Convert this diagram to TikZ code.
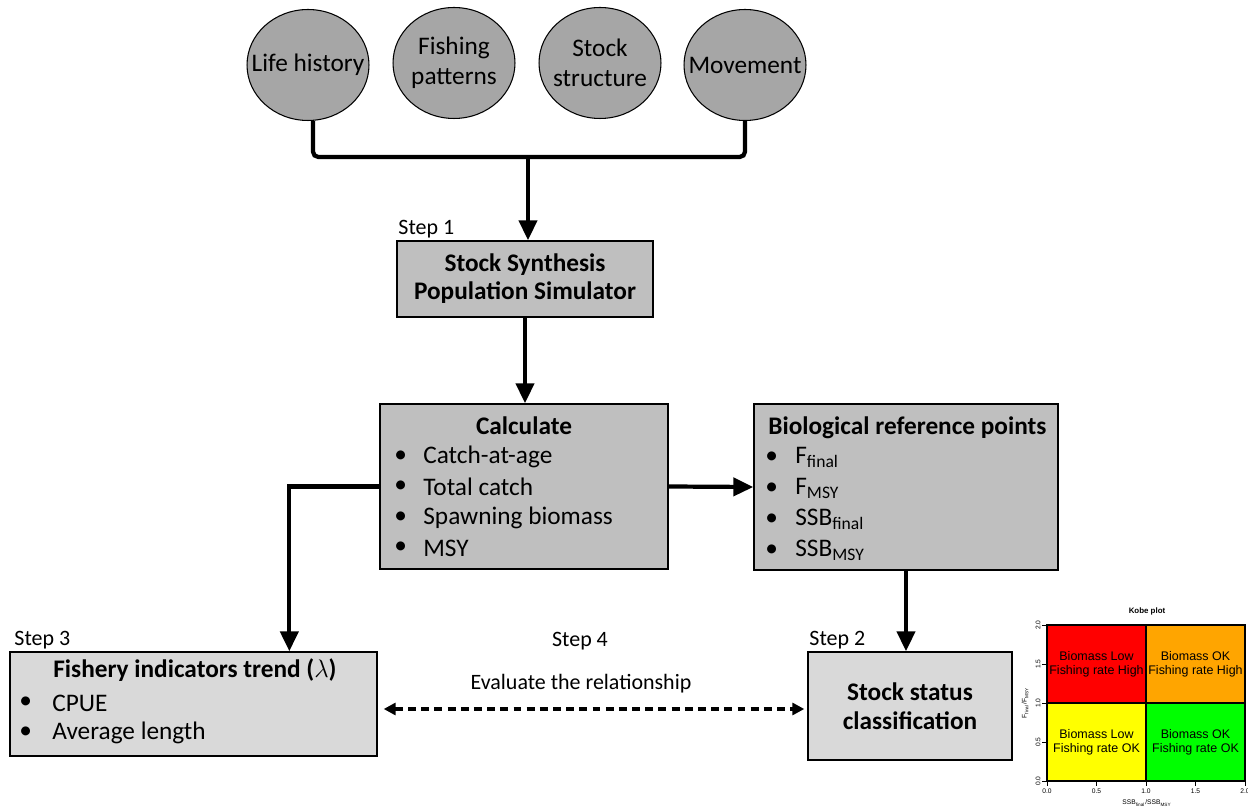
\documentclass[tikz,border=0pt]{standalone}
\usepackage{fontspec}
\setmainfont{Carlito}
\newfontfamily\kobefont{Liberation Sans}
\usepackage{tikz}
\usetikzlibrary{arrows.meta, positioning, shapes.geometric, calc}
\definecolor{bubblegray}{HTML}{A6A6A6}
\definecolor{boxgray}{HTML}{BFBFBF}
\definecolor{palegray}{HTML}{D9D9D9}
\definecolor{kobered}{HTML}{FF0000}
\definecolor{kobeorange}{HTML}{FFA500}
\definecolor{kobeyellow}{HTML}{FFFF00}
\definecolor{kobegreen}{HTML}{00FF00}

\begin{document}
\begin{tikzpicture}[x=0.02cm, y=-0.02cm, font=\fontsize{14.4}{17}\selectfont]
    % Define styles
    \tikzstyle{bubble}=[draw, ellipse, fill=bubblegray, line width=0.6pt, minimum width=2.44cm, minimum height=2.22cm, inner sep=0pt]
    \tikzstyle{darkbox}=[draw, rectangle, fill=boxgray, line width=0.8pt, inner sep=0pt]
    \tikzstyle{palebox}=[draw, rectangle, fill=palegray, line width=0.8pt, inner sep=0pt]
    \tikzstyle{title}=[font=\fontsize{14.4}{16}\selectfont\bfseries, inner sep=0pt]
    \tikzstyle{steptext}=[font=\fontsize{12.5}{15}\selectfont, inner sep=1pt]
    \tikzstyle{entry}=[anchor=west, inner sep=0pt]
    \tikzstyle{flow}=[line width=2.4pt, -{Triangle[length=0.4cm, width=0.36cm]}]
    \tikzstyle{quad}=[draw, line width=0.7pt, minimum width=1.98cm, minimum height=1.56cm, inner sep=0pt, align=center]
    \tikzstyle{tick}=[font=\kobefont\fontsize{3.8}{4}\selectfont, inner sep=0pt]

    \useasboundingbox (0,0) rectangle (1248,810);

    % Inputs (top row)
    \node[bubble, label=center:{Life history}] (life) at (308,65) {};
    \node[bubble, label={[align=center]center:Fishing\\patterns}] (fishing) at (454,63) {};
    \node[bubble, label={[align=center]center:Stock\\structure}] (structure) at (600,63) {};
    \node[bubble, label=center:{Movement}] (movement) at (745,65) {};

    % Bracket joining the inputs
    \coordinate (join) at (528,157);
    \draw[line width=2.4pt, rounded corners=3pt] ([xshift=0.1cm]life.south) |- (join) -| (movement.south);

    % Step 1 - simulator
    \node[darkbox, minimum width=5.12cm, minimum height=1.52cm, align=center, font=\fontsize{14.4}{16}\selectfont\bfseries] (synth) at (525,279) {Stock Synthesis\\Population Simulator};
    \node[steptext, anchor=south west] (step1) at (synth.north west) {Step 1};
    \draw[flow] (join) -- (join |- synth.north);

    % Calculate box
    \node[darkbox, minimum width=5.76cm, minimum height=3.3cm] (calc) at (524,486.5) {};
    \node[title] (calctitle) at (524,426) {Calculate};
    \foreach \y/\txt [count=\i] in {457/Catch-at-age, 487/Total catch, 518/Spawning biomass, 548/MSY} {
        \node[entry] (calcdot\i) at (394,\y) {\textbullet};
        \node[entry] (calcitem\i) at (423,\y) {\txt};
    }
    \draw[flow] (synth.south) -- (synth.south |- calc.north);

    % Biological reference points
    \node[darkbox, minimum width=6.08cm, minimum height=3.32cm] (refpts) at (906,487) {};
    \node[title, anchor=west] (reftitle) at (768,428) {Biological reference points};
    \foreach \y/\txt [count=\i] in {458/F\textsubscript{final}, 489/F\textsubscript{MSY}, 520/SSB\textsubscript{final}, 551/SSB\textsubscript{MSY}} {
        \node[entry] (refdot\i) at (765,\y) {\textbullet};
        \node[entry, anchor=base west] (refitem\i) at (795,\y+6) {\txt};
    }
    \draw[flow] (calc.east) -- (refpts.west);

    % Step 3 - fishery indicators
    \node[palebox, minimum width=7.34cm, minimum height=2.08cm] (fishery) at (193.5,704) {};
    \node[steptext, anchor=south west] (step3) at ([xshift=0.06cm]fishery.north west) {Step 3};
    \node[title] (fishtitle) at (195,670) {Fishery indicators trend ($\lambda$)};
    \foreach \y/\txt [count=\i] in {703/CPUE, 733/Average length} {
        \node[entry] (fishdot\i) at (19,\y) {\textbullet};
        \node[entry] (fishitem\i) at (52,\y) {\txt};
    }
    \draw[flow] (calc.west) -| ($(fishery.north west)+(280,0)$);

    % Step 2 - stock status
    \node[palebox, minimum width=4.08cm, minimum height=2.16cm, align=center, font=\fontsize{14.4}{16.5}\selectfont\bfseries] (status) at (910,706) {Stock status\\classification};
    \node[steptext, anchor=south west] (step2) at (status.north west) {Step 2};
    \draw[flow] (refpts.south) -- (refpts.south |- status.north);

    % Step 4 - relationship
    \node[steptext] (step4) at (580,641) {Step 4};
    \node[steptext] (evaluate) at (581,684) {Evaluate the relationship};
    \draw[line width=2pt, dash pattern=on 4.5pt off 3pt, {Triangle[length=0.24cm, width=0.24cm]}-{Triangle[length=0.24cm, width=0.24cm]}] ([shift={(6,5)}]fishery.east) -- ([shift={(-3,3)}]status.west);

    % Kobe plot
    \node[font=\kobefont\fontsize{4.5}{5}\selectfont\bfseries, inner sep=0pt] (kobetitle) at (1147,611) {Kobe plot};
    \begin{scope}[font=\kobefont\fontsize{7.1}{8}\selectfont]
        \node[quad, fill=kobered] (lowhigh) at (1096.5,664) {Biomass Low\\Fishing rate High};
        \node[quad, fill=kobeorange] (okhigh) at (1195.5,664) {Biomass OK\\Fishing rate High};
        \node[quad, fill=kobeyellow] (lowok) at (1096.5,742) {Biomass Low\\Fishing rate OK};
        \node[quad, fill=kobegreen] (okok) at (1195.5,742) {Biomass OK\\Fishing rate OK};
    \end{scope}
    % Axis ticks
    \foreach \v/\p [count=\i] in {0.0/781, 0.5/742, 1.0/703, 1.5/664, 2.0/625} {
        \draw[line width=0.4pt] (1047,\p) -- (1042,\p);
        \node[tick, rotate=90] (ylab\i) at (1038,\p) {\v};
    }
    \foreach \v/\p [count=\i] in {0.0/1047, 0.5/1096.5, 1.0/1146, 1.5/1195.5, 2.0/1245} {
        \draw[line width=0.4pt] (\p,781) -- (\p,786);
        \node[tick] (xlab\i) at (\p,791) {\v};
    }
    \node[tick, rotate=90] (yaxis) at (1025,703) {F\textsubscript{final}/F\textsubscript{MSY}};
    \node[tick] (xaxis) at (1147,803) {SSB\textsubscript{final}/SSB\textsubscript{MSY}};
\end{tikzpicture}
\end{document}
